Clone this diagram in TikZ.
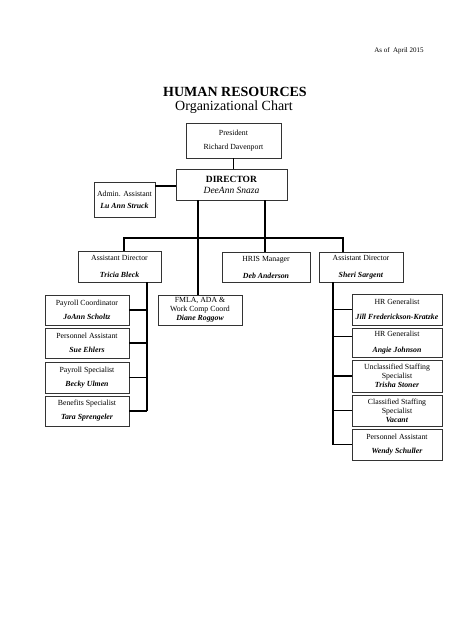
\documentclass[tikz,border=0pt]{standalone}
\usepackage{fontspec}
\setmainfont{Liberation Serif}
\newcommand\pname[1]{\textbf{\textit{#1}}}
\begin{document}
\begin{tikzpicture}[x=1pt,y=-1pt,
  box/.style={draw=black!80, line width=0.8pt, fill=white, align=center, inner sep=0pt,
    font=\fontsize{7.8}{9}\selectfont, minimum height=30},
  conn/.style={line width=1.6pt, black}]
\useasboundingbox (0,0) rectangle (474,632);
\fill[white] (0,0) rectangle (474,632);

% titles
\node[anchor=base, inner sep=0pt, font=\fontsize{7}{8}\selectfont] (asof) at (399,52) {As of\ \ April 2015};
\node[anchor=base, inner sep=0pt, font=\fontsize{14}{16}\selectfont\bfseries] (title) at (235,96.5) {HUMAN RESOURCES};
\node[anchor=base, inner sep=0pt, font=\fontsize{14}{16}\selectfont] (sub) at (234,110) {Organizational Chart};

% top
\node[box, minimum width=95, minimum height=35] (pres) at (233.5,140.5) {President\\[5pt]Richard Davenport};
\node[box, minimum width=111, minimum height=31, font=\fontsize{9.5}{11}\selectfont] (dir) at (231.5,184.5) {\textbf{DIRECTOR}\\\textit{DeeAnn Snaza}};
\node[box, minimum width=61, minimum height=35] (admin) at (124.5,199.5) {Admin. Assistant\\[3pt]\pname{Lu Ann Struck}};

% second level
\node[box, minimum width=83, minimum height=31] (tricia) at (119.5,266.5) {Assistant Director\\[8pt]\pname{Tricia Bleck}};
\node[box, minimum width=88] (hris) at (266,267) {HRIS Manager\\[8pt]\pname{Deb Anderson}};
\node[box, minimum width=84] (sheri) at (361,267) {Assistant Director\\[8pt]\pname{Sheri Sargent}};
\node[box, minimum width=84] (fmla) at (200,310) {FMLA, ADA \&\\Work Comp Coord\\\pname{Diane Roggow}};

% left column
\node[box, minimum width=84] (l1) at (87,310) {Payroll Coordinator\\[5pt]\pname{JoAnn Scholtz}};
\node[box, minimum width=84] (l2) at (87,343) {Personnel Assistant\\[5pt]\pname{Sue Ehlers}};
\node[box, minimum width=84, minimum height=31] (l3) at (87,377.5) {Payroll Specialist\\[5pt]\pname{Becky Ulmen}};
\node[box, minimum width=84] (l4) at (87,411) {Benefits Specialist\\[5pt]\pname{Tara Sprengeler}};

% right column
\node[box, minimum width=90, minimum height=31] (r1) at (397,309.5) {HR Generalist\\[6pt]\pname{Jill Frederickson-Kratzke}};
\node[box, minimum width=90, minimum height=29] (r2) at (397,342.5) {HR Generalist\\[7pt]\pname{Angie Johnson}};
\node[box, minimum width=90, minimum height=32] (r3) at (397,376) {Unclassified Staffing\\Specialist\\\pname{Trisha Stoner}};
\node[box, minimum width=90, minimum height=31] (r4) at (397,410.5) {Classified Staffing\\Specialist\\\pname{Vacant}};
\node[box, minimum width=90, minimum height=31] (r5) at (397,444.5) {Personnel Assistant\\[5pt]\pname{Wendy Schuller}};

% connectors
\draw[conn] (pres.south) -- (pres.south |- dir.north);
\coordinate (ac) at (0,186);
\draw[conn] (admin.east |- ac) -- (dir.west |- ac);
\coordinate (dl) at (198,0);
\coordinate (dr) at (265,0);
\coordinate (bus) at (0,238);
\coordinate (tx) at (124,0);
\coordinate (sx) at (343,0);
\draw[conn] (dir.south -| dl) -- (fmla.north -| dl);
\draw[conn] (dir.south -| dr) -- (hris.north -| dr);
\draw[conn] (tricia.north -| tx) -- (bus -| tx) -- (bus -| sx) -- (sheri.north -| sx);

\coordinate (lt) at (147,0);
\draw[conn] (tricia.south -| lt) -- (l4.east -| lt);
\foreach \n in {l1,l2,l3,l4} \draw[conn] (\n.east) -- (\n.east -| lt);

\coordinate (rt) at (333,0);
\draw[conn] (sheri.south -| rt) -- (r5.west -| rt);
\foreach \n in {r1,r3,r4,r5} \draw[conn] (\n.west) -- (\n.west -| rt);
\draw[conn] ([yshift=6pt]r2.west) -- ([yshift=6pt]r2.west -| rt);
\end{tikzpicture}
\end{document}
